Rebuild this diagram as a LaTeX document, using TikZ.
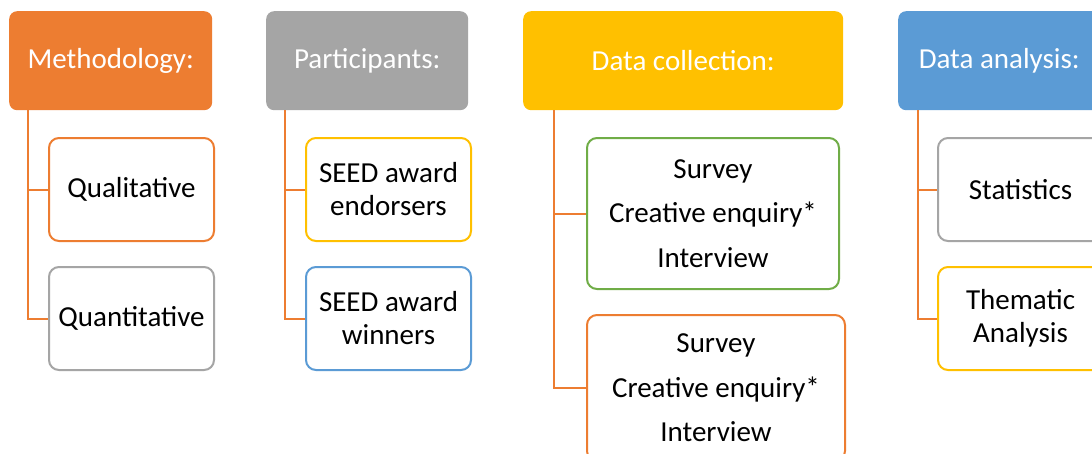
\documentclass[tikz,border=0pt]{standalone}
\usepackage{fontspec}
\setmainfont{Carlito}
\definecolor{accOrange}{HTML}{ED7D31}
\definecolor{accGrey}{HTML}{A5A5A5}
\definecolor{accGold}{HTML}{FFC000}
\definecolor{accBlue}{HTML}{5B9BD5}
\definecolor{accGreen}{HTML}{70AD47}
\tikzset{
  head/.style={anchor=north west, rounded corners=8pt, inner sep=0pt, text=white,
    minimum height=99pt, font=\fontsize{29}{33}\selectfont},
  item/.style={anchor=north west, rounded corners=10pt, draw, line width=2pt, fill=white,
    inner sep=0pt, align=center, font=\fontsize{29}{33}\selectfont},
  smallitem/.style={item, minimum width=165pt, minimum height=103pt},
  listitem/.style={item, font=\fontsize{29}{44.5}\selectfont},
  link/.style={draw=accOrange, line width=2pt}
}
\begin{document}
\begin{tikzpicture}[x=1pt,y=-1pt]
\clip (0,0) rectangle (1092,453);
\fill[white] (0,0) rectangle (1092,453);

% column headers
\node[head, fill=accOrange, minimum width=203pt] (meth) at (9,11) {Methodology:};
\node[head, fill=accGrey,   minimum width=202pt] (part) at (266,11) {Participants:};
\node[head, fill=accGold,   minimum width=320pt] (coll) at (523,11) {Data collection:};
\node[head, fill=accBlue,   minimum width=202pt] (anal) at (898,11) {Data analysis:};

% child boxes
\node[smallitem, draw=accOrange] (qual)  at (48,137)  {Qualitative};
\node[smallitem, draw=accGrey]   (quant) at (48,266)  {Quantitative};
\node[smallitem, draw=accGold]   (endo)  at (305,137) {SEED award\\endorsers};
\node[smallitem, draw=accBlue]   (winn)  at (305,266) {SEED award\\winners};
\node[listitem, draw=accGreen, minimum width=252pt, minimum height=151pt] (dca) at (586,137)
  {Survey\\Creative enquiry*\\Interview};
\node[listitem, draw=accOrange, minimum width=258pt, minimum height=146pt] (dcb) at (586,314)
  {Survey\\Creative enquiry*\\Interview};
\node[smallitem, draw=accGrey]   (stat)  at (937,137) {Statistics};
\node[smallitem, draw=accGold]   (them)  at (937,266) {Thematic\\Analysis};

% elbow connectors from each header down to its boxes
\draw[link] ([xshift=19pt]meth.south west) |- (qual.west);
\draw[link] ([xshift=19pt]meth.south west) |- (quant.west);
\draw[link] ([xshift=19pt]part.south west) |- (endo.west);
\draw[link] ([xshift=19pt]part.south west) |- (winn.west);
\draw[link] ([xshift=31pt]coll.south west) |- (dca.west);
\draw[link] ([xshift=31pt]coll.south west) |- (dcb.west);
\draw[link] ([xshift=19.5pt]anal.south west) |- (stat.west);
\draw[link] ([xshift=19.5pt]anal.south west) |- (them.west);
\end{tikzpicture}
\end{document}
